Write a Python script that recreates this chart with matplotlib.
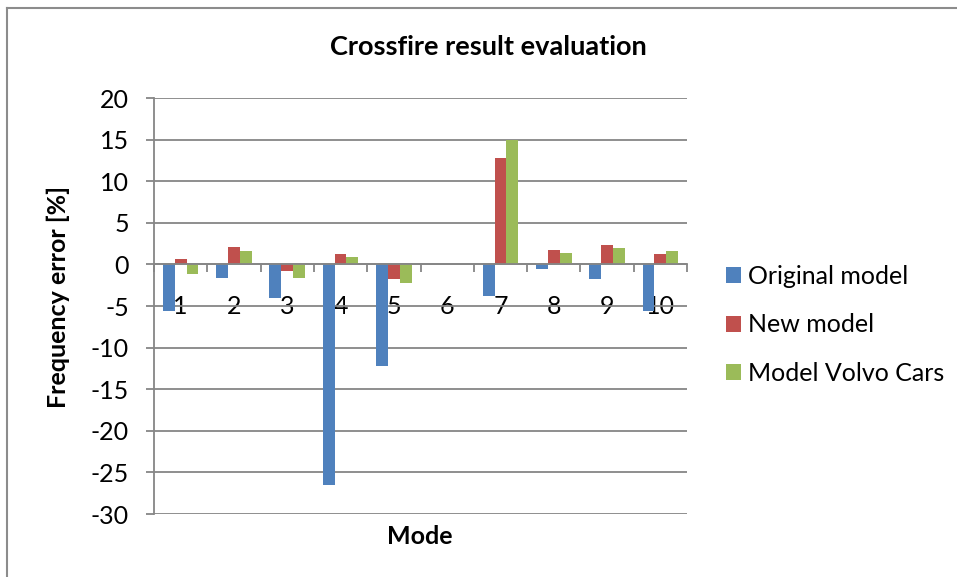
import matplotlib
matplotlib.use("Agg")
import matplotlib.pyplot as plt
from matplotlib.lines import Line2D
from matplotlib.patches import Patch
import numpy as np

plt.rcParams['font.family'] = ['Lato', 'DejaVu Sans']
plt.rcParams['axes.unicode_minus'] = False

modes = ['1', '2', '3', '4', '5', '6', '7', '8', '9', '10']
original_model = [-5.6, -1.6, -4.0, -26.5, -12.2, 0.0, -3.8, -0.6, -1.8, -5.6]
new_model = [0.6, 2.1, -0.8, 1.2, -1.8, 0.0, 12.8, 1.7, 2.3, 1.3]
model_volvo = [-1.2, 1.6, -1.6, 0.9, -2.2, 0.0, 14.9, 1.4, 2.0, 1.6]
series_names = ['Original model', 'New model', 'Model Volvo Cars']
colors = ['#4F81BD', '#C0504D', '#9BBB59']
grid_color = '#868686'
fs = 18

fig = plt.figure(figsize=(9.57, 5.77), dpi=100)
ax = fig.add_axes([154 / 957, 1 - 514 / 577, (687 - 154) / 957, (514 - 98) / 577])

x = np.arange(len(modes))
width = 1 / 4.5
for i, (vals, c) in enumerate(zip([original_model, new_model, model_volvo], colors)):
    ax.bar(x + (i - 1) * width, vals, width, color=c, zorder=3)

ax.set_xlim(-0.5, len(modes) - 0.5)
ax.set_ylim(-30, 20)
ax.set_yticks(np.arange(-30, 21, 5))
ax.yaxis.grid(True, color=grid_color, lw=1.3, zorder=0)
ax.set_axisbelow(True)

for s in ['top', 'right']:
    ax.spines[s].set_visible(False)
ax.spines['left'].set_color(grid_color)
ax.spines['left'].set_linewidth(1.3)
ax.spines['bottom'].set_position(('data', 0))
ax.spines['bottom'].set_color(grid_color)
ax.spines['bottom'].set_linewidth(1.3)
ax.spines['bottom'].set_zorder(4)

ax.set_xticks(x)
ax.set_xticklabels(modes)
ax.set_xticks(np.arange(-0.5, len(modes), 1), minor=True)
ax.tick_params(axis='x', which='major', length=0, pad=22, labelsize=fs)
ax.tick_params(axis='x', which='minor', length=6, width=1.3, color=grid_color, direction='out')
ax.tick_params(axis='y', length=6, width=1.3, color=grid_color, pad=12, labelsize=fs)

fig.text(488 / 957, 1 - 47 / 577, 'Crossfire result evaluation', ha='center', va='center',
         fontsize=19.5, fontweight='bold')
fig.text(58 / 957, 1 - 297 / 577, 'Frequency error [%]', ha='center', va='center',
         rotation=90, fontsize=fs, fontweight='bold')
fig.text(420 / 957, 1 - 537 / 577, 'Mode', ha='center', va='center',
         fontsize=fs, fontweight='bold')

handles = [Patch(facecolor=c, edgecolor='none') for c in colors]
fig.legend(handles, series_names, loc='center left', bbox_to_anchor=(726 / 957, 1 - 325 / 577),
           frameon=False, fontsize=fs, handlelength=0.6, handleheight=0.6,
           handletextpad=0.3, labelspacing=1.02, borderaxespad=0, borderpad=0)

# chart area border
fig.add_artist(Line2D([7 / 957, 7 / 957], [0, 1 - 8 / 577], transform=fig.transFigure,
                      color='#8c8c8c', lw=1.5))
fig.add_artist(Line2D([7 / 957, 1], [1 - 8 / 577, 1 - 8 / 577], transform=fig.transFigure,
                      color='#8c8c8c', lw=1.5))

fig.savefig('out.png', dpi=100)
